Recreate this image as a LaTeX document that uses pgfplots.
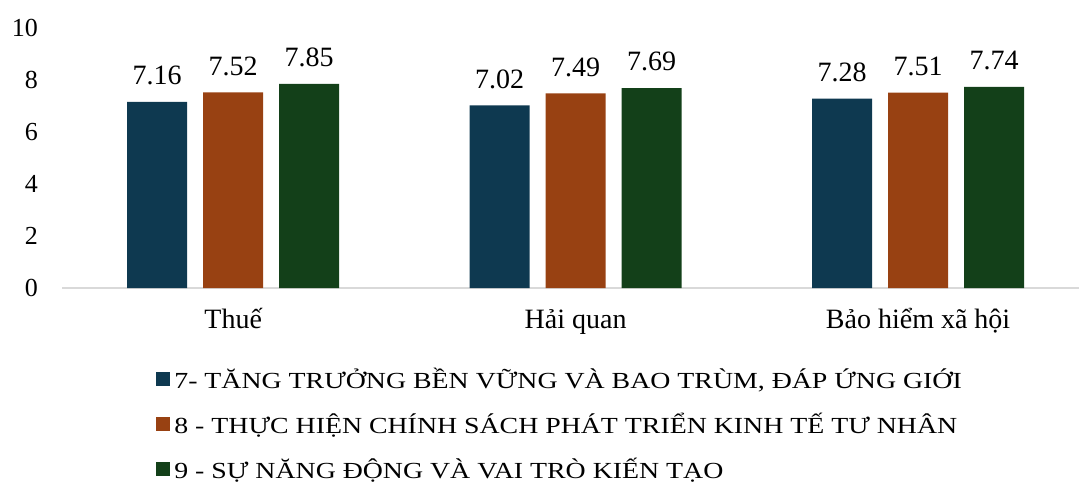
\documentclass[border=0pt]{standalone}
\usepackage{fontspec}
\setmainfont{Liberation Serif}
\newfontfamily\legfont[FakeStretch=1.21]{Liberation Serif}
\usepackage{pgfplots}
\pgfplotsset{compat=1.18}

% Colours
\definecolor{cSeven}{HTML}{0E3950}
\definecolor{cEight}{HTML}{984112}
\definecolor{cNine}{HTML}{134019}
\definecolor{cBase}{HTML}{D9D9D9}

\begin{document}
\begin{tikzpicture}
% fixed canvas (1 px of the reference = 0.5pt)
\useasboundingbox (-31pt,-96.5pt) rectangle (508.5pt,144pt);
\begin{axis}[
    scale only axis,
    width=508.5pt, height=130pt,
    anchor=south west, at={(0pt,0pt)},
    ybar=8pt, bar width=30pt,
    xmin=-0.5, xmax=2.47,
    ymin=0, ymax=10,
    xtick={0,1,2},
    xticklabels={Thuế, Hải quan, Bảo hiểm xã hội},
    ytick={0,2,4,6,8,10},
    /pgf/number format/assume math mode=true,
    y tick label style={font=\fontsize{13}{15}\selectfont, xshift=-8.5pt},
    x tick label style={font=\fontsize{14}{16}\selectfont, text height=10pt, text depth=3pt, yshift=-6.8pt},
    major tick length=0pt,
    axis x line*=bottom,
    axis y line*=left,
    x axis line style={draw=cBase, line width=1pt, -},
    y axis line style={draw=none},
    nodes near coords,
    every node near coord/.append style={font=\fontsize{14}{16}\selectfont, yshift=4.8pt,
        /pgf/number format/.cd, fixed, fixed zerofill, precision=2},
    legend cell align=left,
    legend image code/.code={\fill[#1] (0pt,-1.8pt) rectangle (7pt,5.2pt);},
    legend style={
        at={(0.0924,-0.323)}, anchor=north west,
        draw=none, fill=none, inner sep=0pt,
        font=\legfont\fontsize{11.5}{13}\selectfont,
        row sep=12pt,
        nodes={inner xsep=2pt, inner ysep=0pt, text height=8pt, text depth=2.5pt},
    },
]
\addplot[fill=cSeven, draw=none] coordinates {(0,7.16) (1,7.02) (2,7.28)};
\addlegendentry{7- TĂNG TRƯỞNG BỀN VỮNG VÀ BAO TRÙM, ĐÁP ỨNG GIỚI}
\addplot[fill=cEight, draw=none] coordinates {(0,7.52) (1,7.49) (2,7.51)};
\addlegendentry{8 - THỰC HIỆN CHÍNH SÁCH PHÁT TRIỂN KINH TẾ TƯ NHÂN}
\addplot[fill=cNine, draw=none] coordinates {(0,7.85) (1,7.69) (2,7.74)};
\addlegendentry{9 - SỰ NĂNG ĐỘNG VÀ VAI TRÒ KIẾN TẠO}
\end{axis}
\end{tikzpicture}
\end{document}
